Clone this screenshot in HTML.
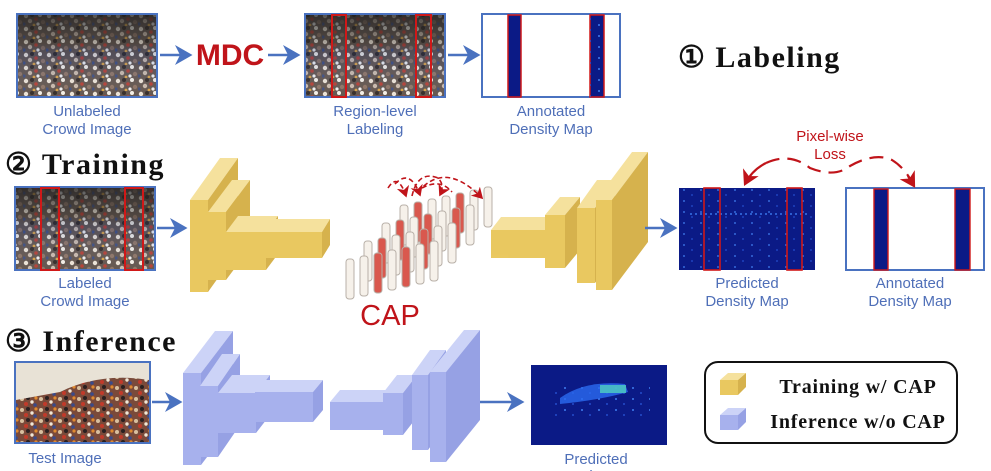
<!DOCTYPE html>
<html><head><meta charset="utf-8"><style>
html,body{margin:0;padding:0;background:#fff;}
svg{display:block}
.lb{font-family:"Liberation Sans",sans-serif;font-size:15px;fill:#4f6fb8;text-anchor:middle}
.hd{font-family:"Liberation Serif",serif;font-weight:bold;font-size:30px;fill:#111;letter-spacing:1.5px}
.lg{font-family:"Liberation Serif",serif;font-weight:bold;font-size:20px;fill:#111;text-anchor:middle;letter-spacing:0.8px}
.y .f{fill:#e6bf45}.y .t{fill:#f4dc8c}.y .s{fill:#cfa52e}
.b .f{fill:#98a4ea}.b .t{fill:#c4ccf6}.b .s{fill:#8491e0}
.y,.b{opacity:.85}
</style></head><body>
<svg width="991" height="471" viewBox="0 0 991 471" xmlns="http://www.w3.org/2000/svg">
<defs>
<pattern id="crowd" width="23" height="13" patternUnits="userSpaceOnUse">
<rect width="23" height="13" fill="#5e5048"/>
<circle cx="3" cy="3" r="2.2" fill="#ece2d4"/><circle cx="9" cy="2" r="2" fill="#2d2420"/>
<circle cx="7" cy="8" r="2.2" fill="#c9b8a8"/><circle cx="13" cy="6" r="1.8" fill="#b23a2e"/>
<circle cx="1" cy="11" r="1.6" fill="#3b4a7a"/><circle cx="17" cy="2" r="2" fill="#f4efe6"/>
<circle cx="20" cy="9" r="2.2" fill="#8a7060"/><circle cx="15" cy="11" r="1.6" fill="#f0f0f0"/>
<circle cx="11" cy="12" r="1.4" fill="#d8a040"/>
</pattern>
<pattern id="crowd2" width="19" height="11" patternUnits="userSpaceOnUse">
<rect width="19" height="11" fill="#7a4a3a"/>
<circle cx="3" cy="3" r="2" fill="#d8c0a0"/><circle cx="9" cy="2" r="2" fill="#2a2020"/>
<circle cx="7" cy="8" r="2" fill="#c23a2a"/><circle cx="13" cy="6" r="1.7" fill="#f0e8d8"/>
<circle cx="17" cy="2" r="1.6" fill="#e08a30"/><circle cx="16" cy="9" r="1.8" fill="#3a4a8a"/>
</pattern>
<linearGradient id="top" x1="0" y1="0" x2="0" y2="1">
<stop offset="0" stop-color="#222" stop-opacity=".75"/><stop offset=".35" stop-color="#333" stop-opacity=".35"/><stop offset=".5" stop-color="#3050a0" stop-opacity=".2"/><stop offset="1" stop-color="#fff" stop-opacity=".05"/>
</linearGradient>
<pattern id="dots" width="17" height="11" patternUnits="userSpaceOnUse">
<circle cx="4" cy="3" r="1" fill="#3f7df0"/><circle cx="12" cy="8" r="0.9" fill="#2a5ae0"/>
</pattern>
<marker id="ab" markerWidth="8" markerHeight="8" refX="6" refY="4" orient="auto"><path d="M0,0 L7,4 L0,8 L2,4z" fill="#4a72c0"/></marker>
<marker id="ar" markerWidth="8" markerHeight="8" refX="6" refY="4" orient="auto"><path d="M0,0 L7,4 L0,8 L2,4z" fill="#c0141a"/></marker>
</defs>

<!-- Row 1 -->
<rect x="17" y="14" width="140" height="83" fill="url(#crowd)" stroke="#4a72c0" stroke-width="2"/>
<rect x="18" y="15" width="138" height="81" fill="url(#top)"/>
<line x1="160" y1="55" x2="190" y2="55" stroke="#4a72c0" stroke-width="2.5" marker-end="url(#ab)"/>
<text x="230" y="65" font-family="Liberation Sans,sans-serif" font-weight="bold" font-size="30" fill="#c0141a" text-anchor="middle">MDC</text>
<line x1="268" y1="55" x2="298" y2="55" stroke="#4a72c0" stroke-width="2.5" marker-end="url(#ab)"/>
<rect x="305" y="14" width="140" height="83" fill="url(#crowd)" stroke="#4a72c0" stroke-width="2"/>
<rect x="306" y="15" width="138" height="81" fill="url(#top)"/>
<rect x="332" y="15" width="14" height="82" fill="none" stroke="#d01818" stroke-width="2"/>
<rect x="416" y="15" width="15" height="82" fill="none" stroke="#d01818" stroke-width="2"/>
<line x1="448" y1="55" x2="478" y2="55" stroke="#4a72c0" stroke-width="2.5" marker-end="url(#ab)"/>
<rect x="482" y="14" width="138" height="83" fill="#fff" stroke="#4a72c0" stroke-width="2"/>
<rect x="508" y="15" width="13" height="82" fill="#0b1a86" stroke="#d01818" stroke-width="1.5"/>
<rect x="590" y="15" width="14" height="82" fill="#0b1a86" stroke="#d01818" stroke-width="1.5"/>
<rect x="590" y="15" width="14" height="82" fill="url(#dots)"/>
<text class="lb" x="87" y="116">Unlabeled</text><text class="lb" x="87" y="134">Crowd Image</text>
<text class="lb" x="375" y="116">Region-level</text><text class="lb" x="375" y="134">Labeling</text>
<text class="lb" x="551" y="116">Annotated</text><text class="lb" x="551" y="134">Density Map</text>
<text class="hd" x="678" y="67">① Labeling</text>

<!-- Row 2 -->
<text class="hd" x="5" y="174">② Training</text>
<rect x="15" y="187" width="140" height="83" fill="url(#crowd)" stroke="#4a72c0" stroke-width="2"/>
<rect x="16" y="188" width="138" height="81" fill="url(#top)"/>
<rect x="41" y="188" width="18" height="82" fill="none" stroke="#d01818" stroke-width="2"/>
<rect x="125" y="188" width="18" height="82" fill="none" stroke="#d01818" stroke-width="2"/>
<text class="lb" x="85" y="288">Labeled</text><text class="lb" x="85" y="306">Crowd Image</text>
<line x1="157" y1="228" x2="185" y2="228" stroke="#4a72c0" stroke-width="2.5" marker-end="url(#ab)"/>

<g class="y">
<polygon class="t" points="190,200 208,200 238,158 220,158"/><polygon class="s" points="208,200 238,158 238,250 208,292"/><rect class="f" x="190" y="200" width="18" height="92"/>
<polygon class="t" points="208,212 226,212 250,180 232,180"/><polygon class="s" points="226,212 250,180 250,248 226,280"/><rect class="f" x="208" y="212" width="18" height="68"/>
<polygon class="t" points="226,232 266,232 278,216 238,216"/><polygon class="s" points="266,232 278,216 278,254 266,270"/><rect class="f" x="226" y="232" width="40" height="38"/>
<polygon class="t" points="264,232 322,232 330,219 272,219"/><polygon class="s" points="322,232 330,219 330,245 322,258"/><rect class="f" x="264" y="232" width="58" height="26"/>
</g>

<!-- CAP pillars -->
<g stroke="#b8b0a8" stroke-width="1">
<rect x="400" y="205" width="8" height="40" rx="3" fill="#f6f1ea"/><rect x="414" y="202" width="8" height="40" rx="3" fill="#d9584e"/><rect x="428" y="199" width="8" height="40" rx="3" fill="#f6f1ea"/><rect x="442" y="196" width="8" height="40" rx="3" fill="#f6f1ea"/><rect x="456" y="193" width="8" height="40" rx="3" fill="#d9584e"/><rect x="470" y="190" width="8" height="40" rx="3" fill="#f6f1ea"/><rect x="484" y="187" width="8" height="40" rx="3" fill="#f6f1ea"/>
<rect x="382" y="223" width="8" height="40" rx="3" fill="#f6f1ea"/><rect x="396" y="220" width="8" height="40" rx="3" fill="#d9584e"/><rect x="410" y="217" width="8" height="40" rx="3" fill="#f6f1ea"/><rect x="424" y="214" width="8" height="40" rx="3" fill="#d9584e"/><rect x="438" y="211" width="8" height="40" rx="3" fill="#f6f1ea"/><rect x="452" y="208" width="8" height="40" rx="3" fill="#d9584e"/><rect x="466" y="205" width="8" height="40" rx="3" fill="#f6f1ea"/>
<rect x="364" y="241" width="8" height="40" rx="3" fill="#f6f1ea"/><rect x="378" y="238" width="8" height="40" rx="3" fill="#d9584e"/><rect x="392" y="235" width="8" height="40" rx="3" fill="#f6f1ea"/><rect x="406" y="232" width="8" height="40" rx="3" fill="#f6f1ea"/><rect x="420" y="229" width="8" height="40" rx="3" fill="#d9584e"/><rect x="434" y="226" width="8" height="40" rx="3" fill="#f6f1ea"/><rect x="448" y="223" width="8" height="40" rx="3" fill="#f6f1ea"/>
<rect x="346" y="259" width="8" height="40" rx="3" fill="#f6f1ea"/><rect x="360" y="256" width="8" height="40" rx="3" fill="#f6f1ea"/><rect x="374" y="253" width="8" height="40" rx="3" fill="#d9584e"/><rect x="388" y="250" width="8" height="40" rx="3" fill="#f6f1ea"/><rect x="402" y="247" width="8" height="40" rx="3" fill="#d9584e"/><rect x="416" y="244" width="8" height="40" rx="3" fill="#f6f1ea"/><rect x="430" y="241" width="8" height="40" rx="3" fill="#f6f1ea"/>
</g>
<g fill="none" stroke="#c0141a" stroke-width="1.6" stroke-dasharray="5,3">
<path d="M388,188 Q398,172 406,196" marker-end="url(#ar)"/>
<path d="M395,184 Q410,168 420,195" marker-end="url(#ar)"/>
<path d="M412,196 Q418,170 438,178 Q445,185 440,195" marker-end="url(#ar)"/>
<path d="M418,192 Q445,160 482,198" marker-end="url(#ar)"/>
<path d="M422,188 Q440,178 452,192"/>
</g>
<text x="390" y="325" font-family="Liberation Sans,sans-serif" font-size="29" fill="#c0141a" text-anchor="middle">CAP</text>

<g class="y">
<polygon class="t" points="491,230 546,230 556,217 501,217"/><polygon class="s" points="546,230 556,217 556,245 546,258"/><rect class="f" x="491" y="230" width="55" height="28"/>
<polygon class="t" points="545,215 565,215 580,197 560,197"/><polygon class="s" points="565,215 580,197 580,250 565,268"/><rect class="f" x="545" y="215" width="20" height="53"/>
<polygon class="t" points="577,208 595,208 615,180 597,180"/><polygon class="s" points="595,208 615,180 615,255 595,283"/><rect class="f" x="577" y="208" width="18" height="75"/>
<polygon class="t" points="596,200 612,200 648,152 632,152"/><polygon class="s" points="612,200 648,152 648,242 612,290"/><rect class="f" x="596" y="200" width="16" height="90"/>
</g>
<line x1="645" y1="228" x2="675" y2="228" stroke="#4a72c0" stroke-width="2.5" marker-end="url(#ab)"/>
<rect x="679" y="188" width="136" height="82" fill="#0b1a86"/>
<rect x="679" y="188" width="136" height="82" fill="url(#dots)" opacity=".8"/>
<path d="M690,214 L810,214" stroke="#3a7af0" stroke-width="2" stroke-dasharray="2,3" opacity=".7"/>
<rect x="704" y="188" width="16" height="82" fill="none" stroke="#d01818" stroke-width="1.6"/>
<rect x="787" y="188" width="15" height="82" fill="none" stroke="#d01818" stroke-width="1.6"/>
<rect x="846" y="188" width="138" height="82" fill="#fff" stroke="#4a72c0" stroke-width="2"/>
<rect x="874" y="189" width="14" height="81" fill="#0b1a86" stroke="#d01818" stroke-width="1.4"/>
<rect x="955" y="189" width="15" height="81" fill="#0b1a86" stroke="#d01818" stroke-width="1.4"/>
<text class="lb" x="747" y="288">Predicted</text><text class="lb" x="747" y="306">Density Map</text>
<text class="lb" x="910" y="288">Annotated</text><text class="lb" x="910" y="306">Density Map</text>
<text x="830" y="141" font-family="Liberation Sans,sans-serif" font-size="15" fill="#c0141a" text-anchor="middle">Pixel-wise</text>
<text x="830" y="159" font-family="Liberation Sans,sans-serif" font-size="15" fill="#c0141a" text-anchor="middle">Loss</text>
<path d="M766,163 Q790,152 810,168 Q835,178 850,166 Q875,152 892,160 Q905,168 913,184" fill="none" stroke="#c0141a" stroke-width="2.2" stroke-dasharray="14,8"/>
<path d="M766,163 Q752,170 745,184" fill="none" stroke="#c0141a" stroke-width="2.2" marker-end="url(#ar)"/>
<path d="M908,176 L914,186" fill="none" stroke="#c0141a" stroke-width="2.2" marker-end="url(#ar)"/>

<!-- Row 3 -->
<text class="hd" x="5" y="351">③ Inference</text>
<rect x="15" y="362" width="135" height="81" fill="url(#crowd2)" stroke="#4a72c0" stroke-width="2"/>
<path d="M16,363 L149,363 L149,380 Q100,372 60,392 L16,400 Z" fill="#e8e2d6"/>
<text class="lb" x="65" y="463">Test Image</text>
<line x1="152" y1="402" x2="180" y2="402" stroke="#4a72c0" stroke-width="2.5" marker-end="url(#ab)"/>
<g class="b">
<polygon class="t" points="183,373 201,373 233,331 215,331"/><polygon class="s" points="201,373 233,331 233,423 201,465"/><rect class="f" x="183" y="373" width="18" height="92"/>
<polygon class="t" points="200,386 218,386 240,354 222,354"/><polygon class="s" points="218,386 240,354 240,425 218,457"/><rect class="f" x="200" y="386" width="18" height="71"/>
<polygon class="t" points="218,393 256,393 270,375 232,375"/><polygon class="s" points="256,393 270,375 270,415 256,433"/><rect class="f" x="218" y="393" width="38" height="40"/>
<polygon class="t" points="255,392 313,392 323,380 265,380"/><polygon class="s" points="313,392 323,380 323,410 313,422"/><rect class="f" x="255" y="392" width="58" height="30"/>
<polygon class="t" points="330,402 383,402 393,390 340,390"/><polygon class="s" points="383,402 393,390 393,418 383,430"/><rect class="f" x="330" y="402" width="53" height="28"/>
<polygon class="t" points="383,393 403,393 417,375 397,375"/><polygon class="s" points="403,393 417,375 417,417 403,435"/><rect class="f" x="383" y="393" width="20" height="42"/>
<polygon class="t" points="412,375 428,375 446,350 430,350"/><polygon class="s" points="428,375 446,350 446,425 428,450"/><rect class="f" x="412" y="375" width="16" height="75"/>
<polygon class="t" points="430,372 446,372 480,330 464,330"/><polygon class="s" points="446,372 480,330 480,420 446,462"/><rect class="f" x="430" y="372" width="16" height="90"/>
</g>
<line x1="480" y1="402" x2="522" y2="402" stroke="#4a72c0" stroke-width="2.5" marker-end="url(#ab)"/>
<rect x="531" y="365" width="136" height="80" fill="#0b1a86"/>
<rect x="555" y="385" width="95" height="35" fill="url(#dots)"/>
<path d="M560,398 Q585,380 625,384 L628,392 Q600,400 560,404 Z" fill="#2a6af0" opacity=".8"/>
<rect x="600" y="385" width="26" height="8" fill="#4fd0c0" opacity=".8"/>
<text class="lb" x="596" y="464">Predicted</text><text class="lb" x="596" y="481">Density Map</text>

<rect x="705" y="362" width="252" height="81" rx="13" fill="#fff" stroke="#111" stroke-width="2"/>
<g class="y"><polygon class="t" points="720,380 738,380 746,373 728,373"/><polygon class="s" points="738,380 746,373 746,387 738,395"/><rect class="f" x="720" y="380" width="18" height="15"/></g>
<g class="b"><polygon class="t" points="720,415 738,415 746,408 728,408"/><polygon class="s" points="738,415 746,408 746,422 738,430"/><rect class="f" x="720" y="415" width="18" height="15"/></g>
<text class="lg" x="858" y="393">Training w/ CAP</text>
<text class="lg" x="858" y="428">Inference w/o CAP</text>
</svg>
</body></html>
